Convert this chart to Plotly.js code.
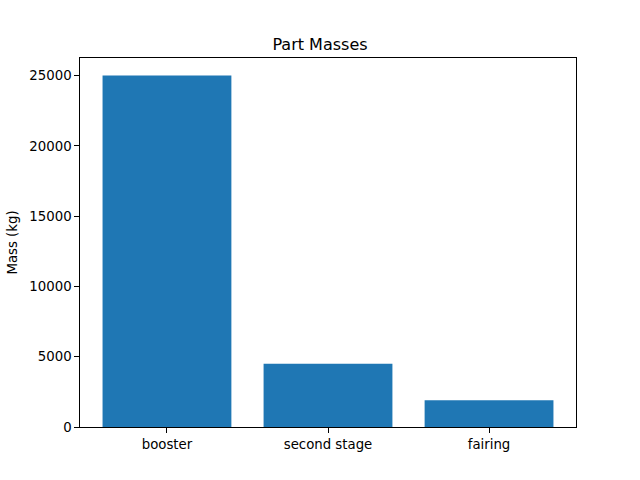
<!DOCTYPE html>
<html>
<head>
<meta charset="utf-8">
<script src="https://cdn.plot.ly/plotly-3.0.1.min.js"></script>
<style>body{margin:0;background:#fff}</style>
</head>
<body>
<div id="chart" style="width:640px;height:480px"></div>
<script>
var parts = ['booster', 'second stage', 'fairing']
var masses = [25000, 4500, 1900]
var yTicks = [0, 5000, 10000, 15000, 20000, 25000]

var trace = {
    x: [0, 1, 2], y: masses, type: 'bar', width: 0.8,
    marker: { color: '#1f77b4', line: { width: 0 } }, hoverinfo: 'x+y'
}

var axisStyle = {
    showline: true, mirror: true, linecolor: '#000', linewidth: 1,
    ticks: 'outside', ticklen: 4.7, tickwidth: 1, tickcolor: '#000',
    showgrid: false, zeroline: false,
    tickfont: { family: 'DejaVu Sans', size: 13.3, color: '#000' }
}

var layout = {
    width: 640, height: 480,
    margin: { l: 80, r: 64, t: 58, b: 53 },
    paper_bgcolor: '#fff', plot_bgcolor: '#fff',
    showlegend: false,
    title: { text: 'Part Masses', x: 0.5, xanchor: 'center', y: 1 - 44 / 480, yanchor: 'middle',
        font: { family: 'DejaVu Sans', size: 16, color: '#000' } },
    xaxis: Object.assign({}, axisStyle, {
        range: [-0.54, 2.54], tickvals: [0, 1, 2], ticktext: parts
    }),
    yaxis: Object.assign({}, axisStyle, {
        range: [0, 26250], tickvals: yTicks, ticktext: yTicks.map(String),
        title: { text: 'Mass (kg)', standoff: 8, font: { family: 'DejaVu Sans', size: 13.3, color: '#000' } }
    })
}

Plotly.newPlot('chart', [trace], layout, { staticPlot: true })
</script>
</body>
</html>
